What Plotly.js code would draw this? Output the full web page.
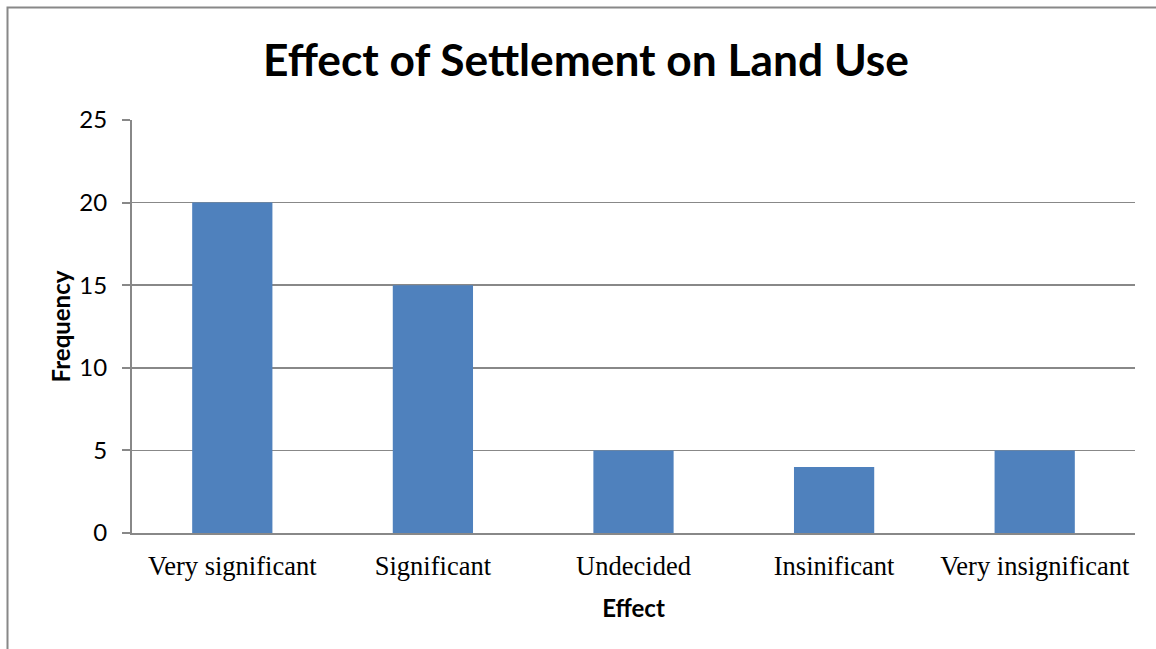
<!DOCTYPE html>
<html><head><meta charset="utf-8">
<script src="https://cdn.plot.ly/plotly-3.0.1.min.js"></script>
<style>html,body{margin:0;padding:0;background:#fff;overflow:hidden}</style>
</head><body>
<div id="chart" style="width:1156px;height:649px"></div>
<script>
const categories = ["Very significant", "Significant", "Undecided", "Insinificant", "Very insignificant"];
const frequency = [20, 15, 5, 4, 5];
const yTicks = [0, 5, 10, 15, 20, 25];

const W = 1156, H = 649, mL = 132, mR = 21, mT = 120, mB = 116;
const pw = W - mL - mR, ph = H - mT - mB;
const px = v => (v - mL) / pw;
const py = v => (H - mB - v) / ph;

const trace = {
  type: "bar", x: categories, y: frequency,
  marker: {color: "#4F81BD"}, hoverinfo: "x+y"
};
const layout = {
  width: W, height: H,
  margin: {l: mL, r: mR, t: mT, b: mB, pad: 0},
  paper_bgcolor: "#fff", plot_bgcolor: "#fff",
  bargap: 0.6, showlegend: false,
  title: {text: "<b>Effect of Settlement on Land Use</b>", x: 586 / W, xanchor: "center",
          y: 1 - 60 / H, yanchor: "middle", yref: "container",
          font: {family: "Lato, 'Open Sans', sans-serif", size: 44.3, color: "#000"}},
  xaxis: {
    type: "category", showline: true, linecolor: "#888", linewidth: 2,
    ticks: "", showgrid: false, zeroline: false,
    tickfont: {family: "'Liberation Serif', 'Times New Roman', serif", size: 26.5, color: "#000"},
    ticklabelstandoff: 8,
    title: {text: "<b>Effect</b>", standoff: 20,
            font: {family: "Lato, 'Open Sans', sans-serif", size: 24, color: "#000"}}
  },
  yaxis: {
    range: [0, 25], tickvals: yTicks, ticktext: yTicks.map(String),
    showline: true, linecolor: "#888", linewidth: 2,
    ticks: "outside", ticklen: 8, tickcolor: "#888", tickwidth: 2,
    showgrid: true, gridcolor: "#888", gridwidth: 1.5, zeroline: false,
    tickfont: {family: "Lato, 'Open Sans', sans-serif", size: 24, color: "#000"},
    ticklabelstandoff: 10,
    title: {text: "<b>Frequency</b>", standoff: 2,
            font: {family: "Lato, 'Open Sans', sans-serif", size: 24, color: "#000"}}
  },
  shapes: [
    {type: "rect", xref: "paper", yref: "paper", x0: px(7.5), x1: px(1250), y0: py(7.5), y1: py(720),
     line: {color: "#888", width: 2}, fillcolor: "rgba(0,0,0,0)", layer: "below"}
  ]
};
Plotly.newPlot("chart", [trace], layout, {displayModeBar: false, staticPlot: true});
</script>
</body></html>
